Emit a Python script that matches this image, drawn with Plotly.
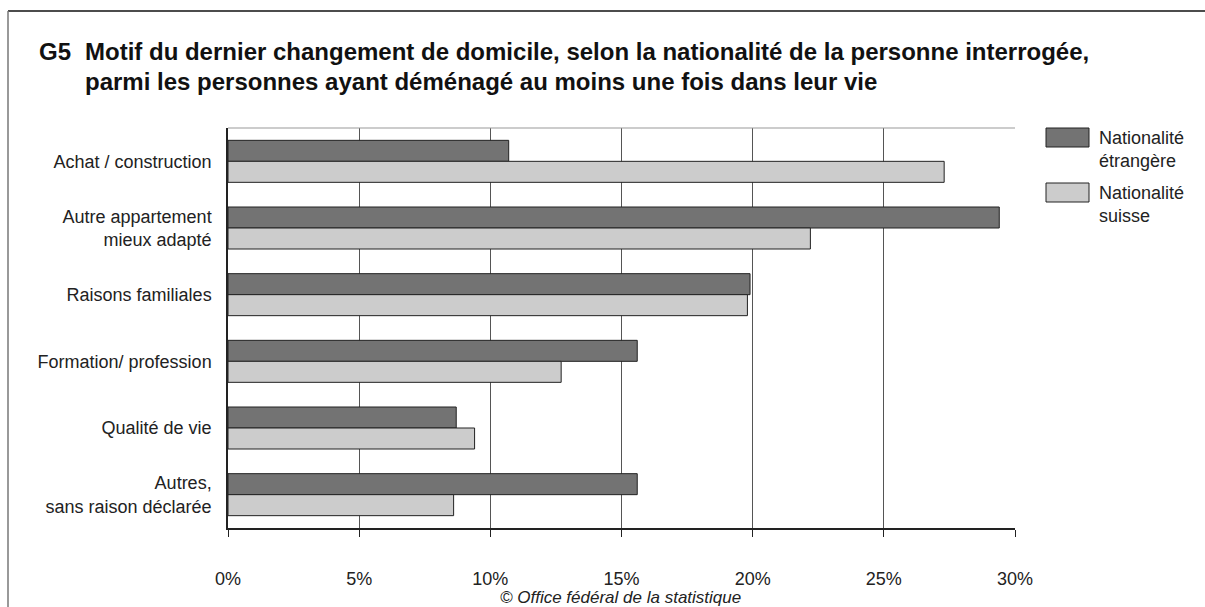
import plotly.graph_objects as go

categories = ["Achat / construction", "Autre appartement<br>mieux adapté", "Raisons familiales",
              "Formation/ profession", "Qualité de vie", "Autres,<br>sans raison déclarée"]
foreign = [10.7, 29.4, 19.9, 15.6, 8.7, 15.6]
swiss = [27.3, 22.2, 19.8, 12.7, 9.4, 8.6]
series_names = ["Nationalité<br>étrangère", "Nationalité<br>suisse"]
tick_vals = [0, 5, 10, 15, 20, 25, 30]
tick_text = ["0%", "5%", "10%", "15%", "20%", "25%", "30%"]

colors = ["#737373", "#cccccc"]
FONT = "Liberation Sans, Arial, sans-serif"

W, H = 1205, 607
L, R, T, B = 228, 1015, 128, 528
PW, PH = R - L, B - T


def px(x):
    return (x - L) / PW


def py(y):
    return (B - y) / PH


fig = go.Figure()
for name, vals, col in zip(series_names, [foreign, swiss], colors):
    fig.add_trace(go.Bar(y=categories, x=vals, orientation="h", name=name,
                         marker=dict(color=col, line=dict(color="#222222", width=1)),
                         showlegend=False))

fig.update_layout(
    width=W, height=H,
    margin=dict(l=L, r=W - R, t=T, b=H - B, pad=0),
    paper_bgcolor="white", plot_bgcolor="white",
    barmode="group", bargap=0.37, bargroupgap=0,
    font=dict(family=FONT, size=18, color="#222222"),
    xaxis=dict(range=[0, 30], tickvals=tick_vals, ticktext=tick_text,
               showgrid=True, gridcolor="#555555", gridwidth=1,
               showline=True, linecolor="#222222", linewidth=1.5, mirror=False,
               ticks="outside", ticklen=7, tickcolor="#222222",
               ticklabelstandoff=27,
               tickfont=dict(size=18, color="#222222"), zeroline=False),
    yaxis=dict(categoryorder="array", categoryarray=categories, autorange="reversed",
               showline=True, linecolor="#222222", linewidth=1.5,
               ticks="", ticklabelstandoff=11,
               tickfont=dict(size=18, color="#222222"), showgrid=False),
)

# top border of plot area
fig.add_shape(type="line", xref="x", yref="paper", x0=0, x1=30, y0=1, y1=1,
              line=dict(color="#999999", width=1))

# outer frame (top and left edges)
fig.add_shape(type="line", xref="paper", yref="paper",
              x0=px(8), x1=px(1205), y0=py(11), y1=py(11),
              line=dict(color="#111111", width=1.5))
fig.add_shape(type="line", xref="paper", yref="paper",
              x0=px(8), x1=px(8), y0=py(11), y1=py(607),
              line=dict(color="#777777", width=1.5))

# title
TF = dict(size=24, color="#111111", family=FONT)
fig.add_annotation(text="<b>G5</b>", xref="paper", yref="paper",
                   x=px(37), y=py(51), xanchor="left", yanchor="middle",
                   showarrow=False, font=TF)
fig.add_annotation(text="<b>Motif du dernier changement de domicile, selon la nationalité de la personne interrogée,</b>",
                   xref="paper", yref="paper",
                   x=px(83), y=py(51), xanchor="left", yanchor="middle",
                   showarrow=False, font=TF)
fig.add_annotation(text="<b>parmi les personnes ayant déménagé au moins une fois dans leur vie</b>",
                   xref="paper", yref="paper",
                   x=px(83), y=py(81), xanchor="left", yanchor="middle",
                   showarrow=False, font=TF)

# manual legend
leg_tops = [128, 183]
for i, (name, col) in enumerate(zip(series_names, colors)):
    t = leg_tops[i]
    fig.add_shape(type="rect", xref="paper", yref="paper",
                  x0=px(1046), x1=px(1089),
                  y0=py(t + 19), y1=py(t),
                  fillcolor=col, line=dict(color="#222222", width=1))
    fig.add_annotation(text=name, xref="paper", yref="paper",
                       x=px(1097), y=py(t - 2), xanchor="left", yanchor="top",
                       align="left", showarrow=False,
                       font=dict(size=18, color="#222222", family=FONT))

# footer
fig.add_annotation(text="<i>© Office fédéral de la statistique</i>", xref="paper", yref="paper",
                   x=px(620), y=py(597), xanchor="center", yanchor="middle",
                   showarrow=False, font=dict(size=17, color="#222222", family=FONT))

fig.write_html("out.html", config={"displayModeBar": False},
               post_script="document.body.style.margin='0';document.body.style.overflow='hidden';")
